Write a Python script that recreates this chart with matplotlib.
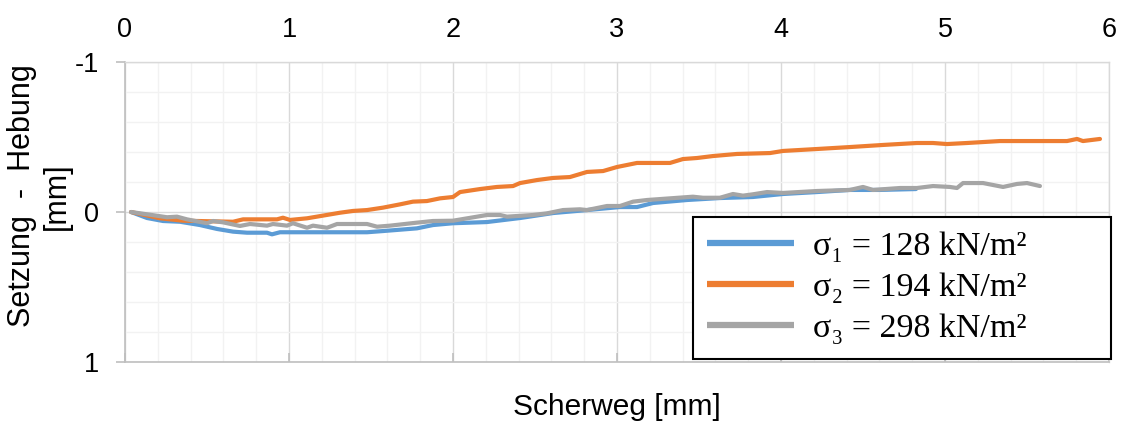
import matplotlib
matplotlib.use("Agg")
import matplotlib.pyplot as plt
from matplotlib.ticker import MultipleLocator

plt.rcParams["font.family"] = ["Liberation Sans", "DejaVu Sans"]

# Scherweg [mm] and vertical displacement [mm] (positive = Setzung)
x_s1 = [0.037, 0.134, 0.232, 0.335, 0.457, 0.561, 0.659, 0.744, 0.866, 0.896, 0.945,
        1.067, 1.25, 1.476, 1.573, 1.780, 1.878, 2.0, 2.207, 2.41, 2.61, 2.817, 3.018,
        3.122, 3.22, 3.427, 3.628, 3.829, 4.012, 4.22, 4.42, 4.60, 4.823]
y_s1 = [0.0, 0.04, 0.06, 0.065, 0.087, 0.113, 0.131, 0.138, 0.138, 0.149, 0.135,
        0.135, 0.135, 0.135, 0.127, 0.109, 0.087, 0.075, 0.067, 0.04, 0.007, -0.013, -0.033,
        -0.033, -0.06, -0.08, -0.093, -0.10, -0.12, -0.133, -0.147, -0.147, -0.153]

x_s2 = [0.037, 0.213, 0.354, 0.659, 0.72, 0.927, 0.963, 1.006, 1.11, 1.17, 1.31, 1.39,
        1.476, 1.573, 1.677, 1.756, 1.841, 1.921, 2.0, 2.043, 2.165, 2.268, 2.366, 2.409,
        2.512, 2.61, 2.713, 2.817, 2.915, 3.0, 3.122, 3.323, 3.402, 3.488, 3.585, 3.732,
        3.933, 4.012, 4.22, 4.42, 4.622, 4.829, 4.927, 5.012, 5.134, 5.335, 5.744, 5.805,
        5.841, 5.945]
y_s2 = [0.0, 0.042, 0.058, 0.065, 0.049, 0.049, 0.038, 0.053, 0.042, 0.031, 0.005, -0.007,
        -0.013, -0.029, -0.051, -0.069, -0.073, -0.091, -0.10, -0.133, -0.153, -0.167, -0.173, -0.193,
        -0.213, -0.227, -0.233, -0.267, -0.273, -0.30, -0.327, -0.327, -0.353, -0.36, -0.373, -0.387,
        -0.393, -0.407, -0.42, -0.433, -0.447, -0.46, -0.46, -0.453, -0.46, -0.473, -0.473, -0.487,
        -0.473, -0.487]

x_s3 = [0.037, 0.195, 0.256, 0.317, 0.378, 0.5, 0.537, 0.598, 0.701, 0.762, 0.866, 0.902,
        0.988, 1.024, 1.11, 1.146, 1.232, 1.293, 1.476, 1.537, 1.616, 1.78, 1.878, 2.0,
        2.207, 2.287, 2.329, 2.488, 2.573, 2.671, 2.774, 2.817, 2.939, 3.018, 3.098, 3.183,
        3.323, 3.463, 3.524, 3.628, 3.707, 3.768, 3.829, 3.915, 4.012, 4.22, 4.42, 4.5,
        4.561, 4.726, 4.829, 4.927, 5.03, 5.073, 5.11, 5.232, 5.354, 5.439, 5.5, 5.579]
y_s3 = [0.0, 0.025, 0.035, 0.031, 0.049, 0.075, 0.06, 0.069, 0.093, 0.08, 0.091, 0.08,
        0.091, 0.075, 0.105, 0.091, 0.105, 0.08, 0.08, 0.098, 0.091, 0.071, 0.06, 0.058,
        0.02, 0.02, 0.031, 0.02, 0.009, -0.013, -0.018, -0.013, -0.04, -0.04, -0.069, -0.08,
        -0.091, -0.102, -0.095, -0.095, -0.12, -0.109, -0.118, -0.133, -0.127, -0.14, -0.147, -0.167,
        -0.147, -0.16, -0.16, -0.173, -0.167, -0.16, -0.193, -0.193, -0.167, -0.187, -0.193, -0.173]

labels = ["σ₁ = 128 kN/m²", "σ₂ = 194 kN/m²", "σ₃ = 298 kN/m²"]
colors = ["#5B9BD5", "#ED7D31", "#A5A5A5"]

fig = plt.figure(figsize=(11.23, 4.23), dpi=100)
ax = fig.add_axes([125 / 1123, 61 / 423, 984 / 1123, 300 / 423])

series = [(x_s1, y_s1), (x_s2, y_s2), (x_s3, y_s3)]
for (xs, ys), lab, col in zip(series, labels, colors):
    ax.plot(xs, ys, color=col, lw=3.0, label=lab, solid_capstyle="round",
            solid_joinstyle="round", zorder=3)

ax.set_xlim(0, 6)
ax.set_ylim(1, -1)
ax.xaxis.set_major_locator(MultipleLocator(1))
ax.xaxis.set_minor_locator(MultipleLocator(0.2))
ax.yaxis.set_major_locator(MultipleLocator(1))
ax.yaxis.set_minor_locator(MultipleLocator(0.2))

ax.grid(which="major", color="#d9d9d9", lw=1.0, zorder=0)
ax.grid(which="minor", color="#f2f2f2", lw=1.0, zorder=0)
ax.set_axisbelow(True)

for side in ("top", "right"):
    ax.spines[side].set_color("#d9d9d9")
    ax.spines[side].set_linewidth(1.0)
for side in ("left", "bottom"):
    ax.spines[side].set_color("#bfbfbf")
    ax.spines[side].set_linewidth(1.2)

ax.tick_params(axis="x", which="major", top=False, labeltop=True, bottom=True,
               labelbottom=False, direction="in", length=6.5, width=1.2,
               color="#bfbfbf", labelsize=19.5, pad=14)
ax.tick_params(axis="y", which="major", left=True, direction="out", length=6.5,
               width=1.2, color="#bfbfbf", labelsize=19.5, pad=12)
ax.tick_params(which="minor", length=0)
ax.yaxis.set_major_formatter(plt.FuncFormatter(lambda v, p: f"{v:g}"))

ax.set_xlabel("Scherweg [mm]", fontsize=21.5, labelpad=19)
ax.set_ylabel("Setzung  -  Hebung\n[mm]", fontsize=22, linespacing=1.2)
ax.yaxis.set_label_coords(-0.054, 0.553)

leg = ax.legend(loc="upper left", bbox_to_anchor=(0.577, 0.0, 0.4255, 0.483),
                mode="expand", frameon=True, fancybox=False, framealpha=1,
                edgecolor="black", borderaxespad=0,
                prop={"family": ["Liberation Serif", "DejaVu Serif"], "size": 24.5},
                handlelength=2.55, handletextpad=0.56, labelspacing=0.3,
                borderpad=0.42)
leg.get_frame().set_linewidth(1.5)
for line in leg.get_lines():
    line.set_linewidth(4.5)
    line.set_solid_capstyle("butt")

fig.savefig("out.png", dpi=100)
